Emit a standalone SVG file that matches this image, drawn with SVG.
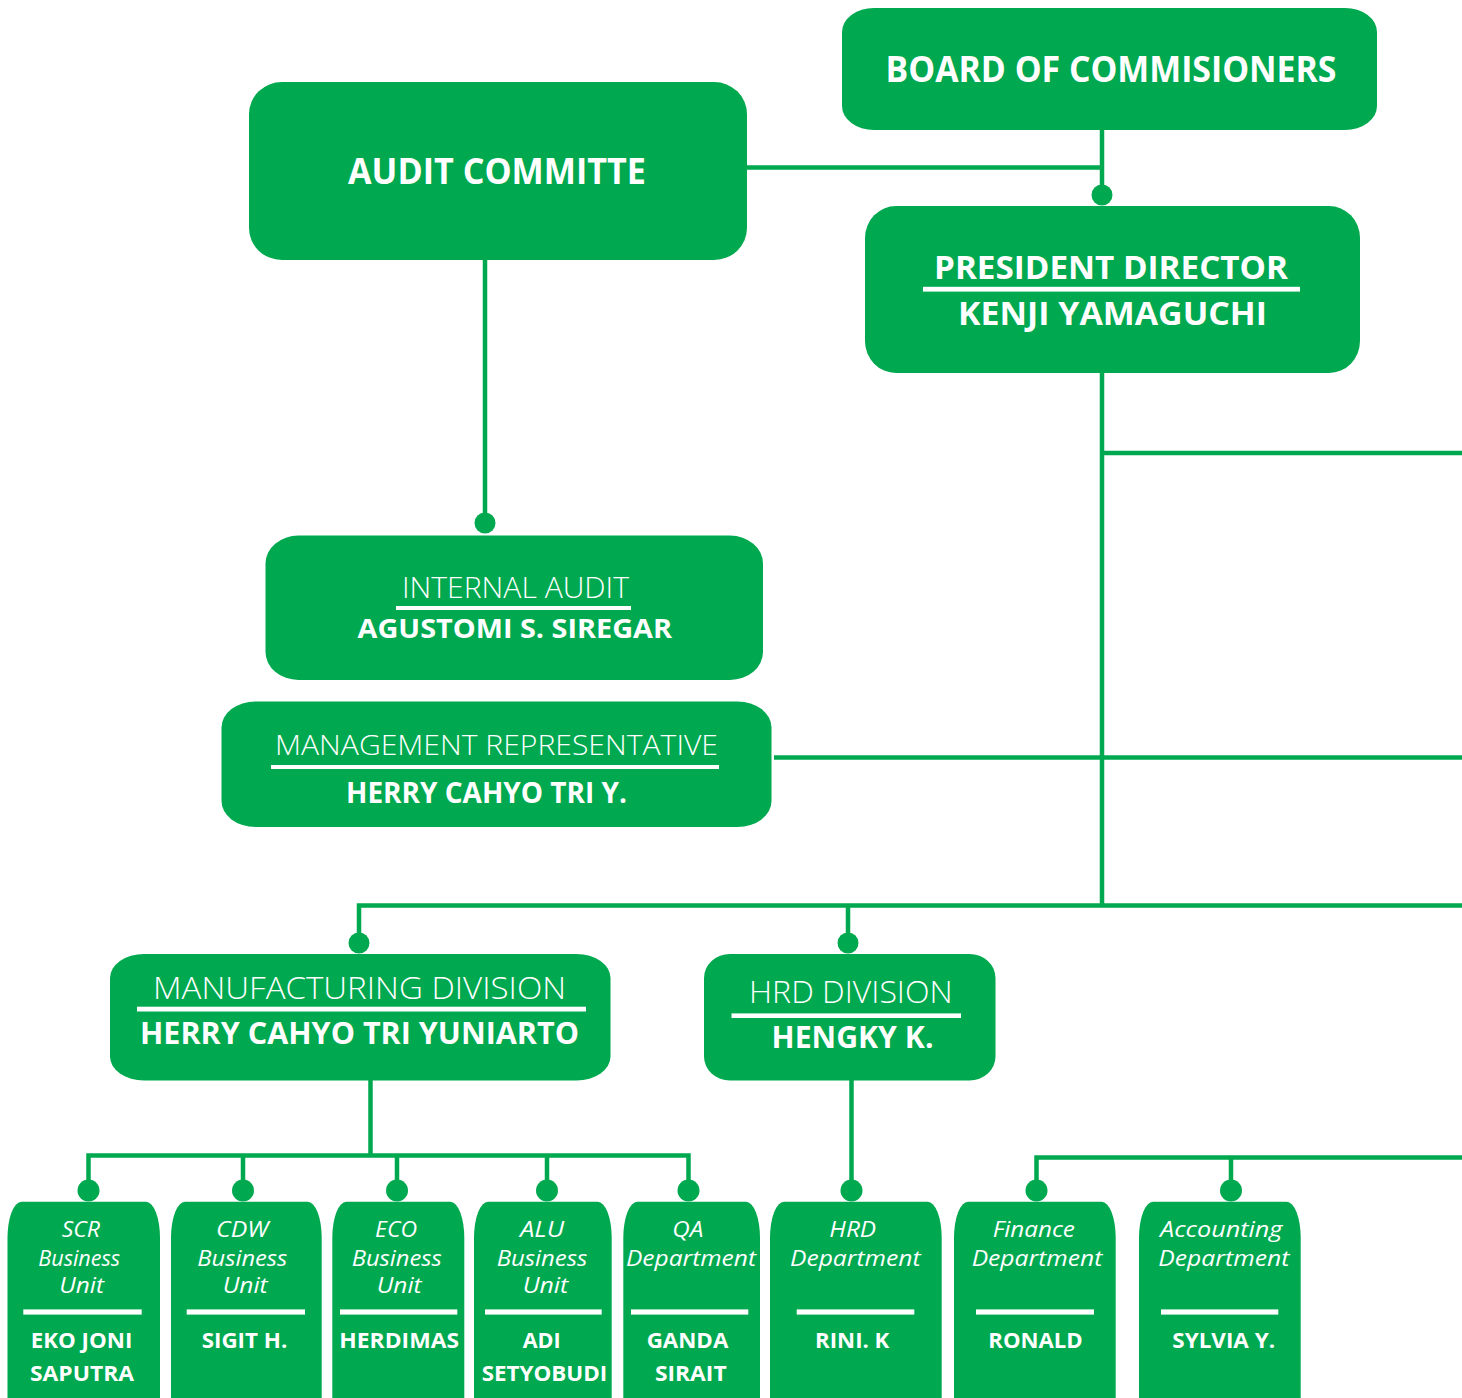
<svg xmlns="http://www.w3.org/2000/svg" width="1462" height="1398" viewBox="0 0 1462 1398">
<style>
.box{fill:#00A94F}
.ln{stroke:#00A94F;stroke-width:4.5;fill:none;stroke-linecap:butt;stroke-linejoin:miter}
.dot{fill:#00A94F}
.t{fill:#fff;font-family:'Open Sans','Noto Sans','Liberation Sans',sans-serif;text-anchor:middle}
.b{font-weight:700}
.l{font-weight:300}
.i{font-style:italic;font-weight:400;font-size:22px}
.n{font-weight:700;font-size:21px}
.u{fill:#fff}
</style>
<rect width="1462" height="1398" fill="#fff"/>
<g id="connectors">
<path class="ln" d="M1102 130V195"/>
<path class="ln" d="M747 167.5H1102"/>
<path class="ln" d="M1102 373V905.5"/>
<path class="ln" d="M1102 453H1462"/>
<path class="ln" d="M774 757.5H1462"/>
<path class="ln" d="M359 942V905.5H1462"/>
<path class="ln" d="M848 905.5V942"/>
<path class="ln" d="M485 260V523"/>
<path class="ln" d="M370.5 1080V1155.5"/>
<path class="ln" d="M88.5 1190V1155.5H688.5V1190"/>
<path class="ln" d="M243 1155.5V1190"/>
<path class="ln" d="M397 1155.5V1190"/>
<path class="ln" d="M547 1155.5V1190"/>
<path class="ln" d="M851.5 1080V1190"/>
<path class="ln" d="M1036.5 1190V1157.5H1462"/>
<path class="ln" d="M1231 1157.5V1190"/>
<circle class="dot" cx="1102" cy="195" r="10.5"/>
<circle class="dot" cx="485" cy="523" r="10.5"/>
<circle class="dot" cx="359" cy="943" r="10.5"/>
<circle class="dot" cx="848" cy="943" r="10.5"/>
<circle class="dot" cx="88.5" cy="1190.5" r="11"/>
<circle class="dot" cx="243" cy="1190.5" r="11"/>
<circle class="dot" cx="397" cy="1190.5" r="11"/>
<circle class="dot" cx="547" cy="1190.5" r="11"/>
<circle class="dot" cx="688.5" cy="1190.5" r="11"/>
<circle class="dot" cx="851.5" cy="1190.5" r="11"/>
<circle class="dot" cx="1036.5" cy="1190.5" r="11"/>
<circle class="dot" cx="1231" cy="1190.5" r="11"/>
</g>
<g id="board">
<rect class="box" x="842" y="8" width="535" height="122" rx="32" ry="24"/>
<text class="t b" x="1111" y="82" font-size="35" textLength="451" lengthAdjust="spacingAndGlyphs">BOARD OF COMMISIONERS</text>
</g>
<g id="audit-committee">
<rect class="box" x="249" y="82" width="498" height="178" rx="33" ry="32"/>
<text class="t b" x="497" y="183.5" font-size="35" textLength="298" lengthAdjust="spacingAndGlyphs">AUDIT COMMITTE</text>
</g>
<g id="president">
<rect class="box" x="865" y="206" width="495" height="167" rx="31" ry="32"/>
<text class="t b" x="1111" y="278.5" font-size="32.6" textLength="354" lengthAdjust="spacingAndGlyphs">PRESIDENT DIRECTOR</text>
<rect class="u" x="923" y="286.8" width="377" height="4.8"/>
<text class="t b" x="1112.5" y="325" font-size="32.6" textLength="309" lengthAdjust="spacingAndGlyphs">KENJI YAMAGUCHI</text>
</g>
<g id="internal-audit">
<rect class="box" x="265.5" y="535.5" width="497.5" height="144.5" rx="33" ry="28"/>
<text class="t l" x="515.5" y="598.3" font-size="29" textLength="227" lengthAdjust="spacingAndGlyphs">INTERNAL AUDIT</text>
<rect class="u" x="396" y="606" width="235" height="4"/>
<text class="t b" x="514.8" y="638.3" font-size="27.5" textLength="314.5" lengthAdjust="spacingAndGlyphs">AGUSTOMI S. SIREGAR</text>
</g>
<g id="management-rep">
<rect class="box" x="221.5" y="701.5" width="550" height="125.5" rx="34" ry="26"/>
<text class="t l" x="496.5" y="755" font-size="28" textLength="443" lengthAdjust="spacingAndGlyphs">MANAGEMENT REPRESENTATIVE</text>
<rect class="u" x="271" y="765" width="448" height="4"/>
<text class="t b" x="486.5" y="802.7" font-size="29.4" textLength="281" lengthAdjust="spacingAndGlyphs">HERRY CAHYO TRI Y.</text>
</g>
<g id="manufacturing">
<rect class="box" x="110" y="954" width="500.5" height="126.5" rx="34" ry="24"/>
<text class="t l" x="359.5" y="999.3" font-size="30.8" textLength="413" lengthAdjust="spacingAndGlyphs">MANUFACTURING DIVISION</text>
<rect class="u" x="137" y="1006.7" width="449" height="4.8"/>
<text class="t b" x="359.5" y="1044" font-size="30.8" textLength="439" lengthAdjust="spacingAndGlyphs">HERRY CAHYO TRI YUNIARTO</text>
</g>
<g id="hrd-division">
<rect class="box" x="704" y="954" width="291.5" height="126.5" rx="26" ry="24"/>
<text class="t l" x="850.8" y="1003.3" font-size="31.8" textLength="203.5" lengthAdjust="spacingAndGlyphs">HRD DIVISION</text>
<rect class="u" x="731.5" y="1013.4" width="229.5" height="4.6"/>
<text class="t b" x="852.5" y="1048.3" font-size="30.4" textLength="162" lengthAdjust="spacingAndGlyphs">HENGKY K.</text>
</g>
<g id="scr">
<rect class="box" x="7.5" y="1201.7" width="152.5" height="240" rx="14" ry="36"/>
<text class="t i" x="80.8" y="1236.7" textLength="38.3" lengthAdjust="spacingAndGlyphs">SCR</text>
<text class="t i" x="79.2" y="1265.7" textLength="81.7" lengthAdjust="spacingAndGlyphs">Business</text>
<text class="t i" x="81.7" y="1293.3" textLength="44.7" lengthAdjust="spacingAndGlyphs">Unit</text>
<rect class="u" x="23.3" y="1309.4" width="118.4" height="5.2"/>
<text class="t n" x="81.5" y="1348.3" textLength="101.6" lengthAdjust="spacingAndGlyphs">EKO JONI</text>
<text class="t n" x="82" y="1380.7" textLength="104" lengthAdjust="spacingAndGlyphs">SAPUTRA</text>
</g>
<g id="cdw">
<rect class="box" x="171" y="1201.7" width="150.7" height="240" rx="14" ry="36"/>
<text class="t i" x="242.2" y="1236.7" textLength="52.3" lengthAdjust="spacingAndGlyphs">CDW</text>
<text class="t i" x="242.3" y="1265.7" textLength="90" lengthAdjust="spacingAndGlyphs">Business</text>
<text class="t i" x="245.2" y="1293.3" textLength="45" lengthAdjust="spacingAndGlyphs">Unit</text>
<rect class="u" x="186.7" y="1309.4" width="118.3" height="5.2"/>
<text class="t n" x="244.5" y="1348.3" textLength="85.6" lengthAdjust="spacingAndGlyphs">SIGIT H.</text>
</g>
<g id="eco">
<rect class="box" x="332.3" y="1201.7" width="132" height="240" rx="14" ry="36"/>
<text class="t i" x="396" y="1236.7" textLength="42" lengthAdjust="spacingAndGlyphs">ECO</text>
<text class="t i" x="396.7" y="1265.7" textLength="90" lengthAdjust="spacingAndGlyphs">Business</text>
<text class="t i" x="399.2" y="1293.3" textLength="45" lengthAdjust="spacingAndGlyphs">Unit</text>
<rect class="u" x="340" y="1309.4" width="117.3" height="5.2"/>
<text class="t n" x="399.2" y="1348.3" textLength="119.7" lengthAdjust="spacingAndGlyphs">HERDIMAS</text>
</g>
<g id="alu">
<rect class="box" x="474" y="1201.7" width="137.7" height="240" rx="14" ry="36"/>
<text class="t i" x="542" y="1236.7" textLength="44" lengthAdjust="spacingAndGlyphs">ALU</text>
<text class="t i" x="542" y="1265.7" textLength="90.6" lengthAdjust="spacingAndGlyphs">Business</text>
<text class="t i" x="545.5" y="1293.3" textLength="45.6" lengthAdjust="spacingAndGlyphs">Unit</text>
<rect class="u" x="485" y="1309.4" width="116.7" height="5.2"/>
<text class="t n" x="541.7" y="1348.3" textLength="38" lengthAdjust="spacingAndGlyphs">ADI</text>
<text class="t n" x="544.5" y="1380.7" textLength="125.6" lengthAdjust="spacingAndGlyphs">SETYOBUDI</text>
</g>
<g id="qa">
<rect class="box" x="623.3" y="1201.7" width="136.7" height="240" rx="14" ry="36"/>
<text class="t i" x="687.8" y="1236.7" textLength="31" lengthAdjust="spacingAndGlyphs">QA</text>
<text class="t i" x="691" y="1265.7" textLength="130" lengthAdjust="spacingAndGlyphs">Department</text>
<rect class="u" x="631" y="1309.4" width="117.3" height="5.2"/>
<text class="t n" x="687.5" y="1348.3" textLength="81.6" lengthAdjust="spacingAndGlyphs">GANDA</text>
<text class="t n" x="690.8" y="1380.7" textLength="71.7" lengthAdjust="spacingAndGlyphs">SIRAIT</text>
</g>
<g id="hrd-dept">
<rect class="box" x="770" y="1201.7" width="171.7" height="240" rx="14" ry="36"/>
<text class="t i" x="852.7" y="1236.7" textLength="46.7" lengthAdjust="spacingAndGlyphs">HRD</text>
<text class="t i" x="855.3" y="1265.7" textLength="130.7" lengthAdjust="spacingAndGlyphs">Department</text>
<rect class="u" x="796.7" y="1309.4" width="117.6" height="5.2"/>
<text class="t n" x="852.2" y="1348.3" textLength="74.3" lengthAdjust="spacingAndGlyphs">RINI. K</text>
</g>
<g id="finance">
<rect class="box" x="954" y="1201.7" width="161.7" height="240" rx="14" ry="36"/>
<text class="t i" x="1033.8" y="1236.7" textLength="82.3" lengthAdjust="spacingAndGlyphs">Finance</text>
<text class="t i" x="1037" y="1265.7" textLength="130.6" lengthAdjust="spacingAndGlyphs">Department</text>
<rect class="u" x="976" y="1309.4" width="118" height="5.2"/>
<text class="t n" x="1035.5" y="1348.3" textLength="94.4" lengthAdjust="spacingAndGlyphs">RONALD</text>
</g>
<g id="accounting">
<rect class="box" x="1139" y="1201.7" width="161.7" height="240" rx="14" ry="36"/>
<text class="t i" x="1221.2" y="1236.7" textLength="122.3" lengthAdjust="spacingAndGlyphs">Accounting</text>
<text class="t i" x="1223.8" y="1265.7" textLength="131" lengthAdjust="spacingAndGlyphs">Department</text>
<rect class="u" x="1161" y="1309.4" width="117.3" height="5.2"/>
<text class="t n" x="1223.7" y="1348.3" textLength="102.7" lengthAdjust="spacingAndGlyphs">SYLVIA Y.</text>
</g>
</svg>
